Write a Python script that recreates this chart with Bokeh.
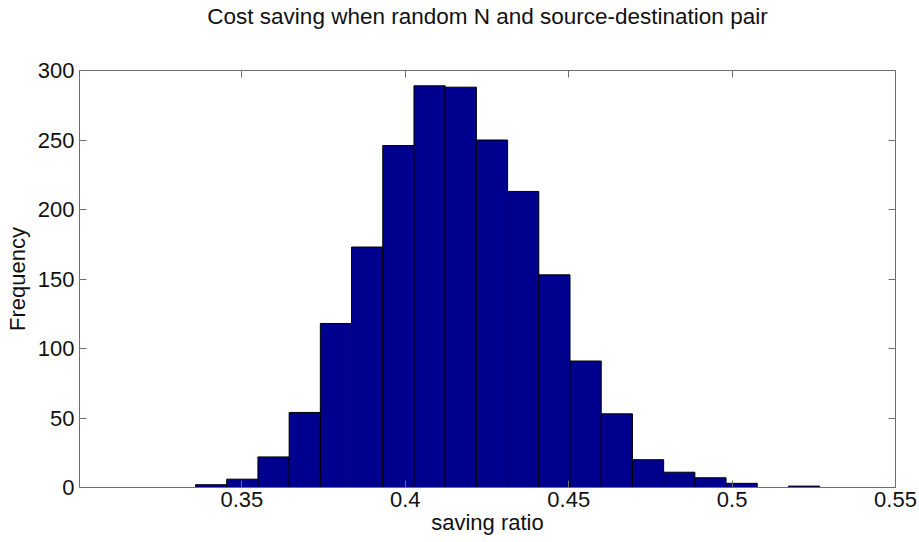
import numpy as np
from bokeh.plotting import figure
from bokeh.models import FixedTicker, LinearAxis, Range1d, ColumnDataSource
from bokeh.embed import file_html
from bokeh.resources import INLINE

# Histogram data (20 bins between min and max saving ratio)
data_min = 0.3358
data_max = 0.5268
counts = [2, 6, 22, 54, 118, 173, 246, 289, 288, 250,
          213, 153, 91, 53, 20, 11, 7, 3, 0, 1]
x_ticks = [0.35, 0.4, 0.45, 0.5, 0.55]
x_tick_labels = ["0.35", "0.4", "0.45", "0.5", "0.55"]
y_ticks = [0, 50, 100, 150, 200, 250, 300]
title_text = "Cost saving when random N and source-destination pair"

edges = np.linspace(data_min, data_max, len(counts) + 1)
src = ColumnDataSource(dict(left=edges[:-1], right=edges[1:], top=counts,
                            bottom=[0] * len(counts)))

FONT = "Liberation Sans"
AX_COL = "#6e6e6e"

p = figure(width=919, height=542, output_backend="svg", toolbar_location=None,
           x_range=Range1d(0.3003, 0.55), y_range=Range1d(0, 300),
           min_border_left=79, min_border_right=24, min_border_top=70,
           min_border_bottom=55, title=None)

p.quad(left="left", right="right", top="top", bottom="bottom", source=src,
       fill_color="#00008F", line_color="#000000", line_width=1)

p.grid.visible = False
p.outline_line_color = AX_COL
p.background_fill_color = "white"
p.border_fill_color = "white"

xa = p.xaxis[0]
xa.ticker = FixedTicker(ticks=x_ticks)
xa.major_label_overrides = {t: l for t, l in zip(x_ticks, x_tick_labels)}
xa.axis_label = "saving ratio"
ya = p.yaxis[0]
ya.ticker = FixedTicker(ticks=y_ticks)
ya.axis_label = "Frequency"

for ax in (xa, ya):
    ax.axis_line_color = AX_COL
    ax.major_tick_line_color = AX_COL
    ax.major_tick_in = 7
    ax.major_tick_out = 0
    ax.minor_tick_line_color = None
    ax.major_label_text_font = FONT
    ax.major_label_text_font_size = "22px"
    ax.major_label_text_color = "#111111"
    ax.axis_label_text_font = FONT
    ax.axis_label_text_font_size = "22px"
    ax.axis_label_text_font_style = "normal"
    ax.axis_label_text_color = "#111111"
xa.major_label_standoff = 4
ya.major_label_standoff = 5
xa.axis_label_standoff = 0
ya.axis_label_standoff = 5

top_ax = LinearAxis(ticker=FixedTicker(ticks=x_ticks))
right_ax = LinearAxis(ticker=FixedTicker(ticks=y_ticks))
for ax in (top_ax, right_ax):
    ax.axis_line_color = AX_COL
    ax.major_tick_line_color = AX_COL
    ax.major_tick_in = 7
    ax.major_tick_out = 0
    ax.minor_tick_line_color = None
    ax.major_label_text_font_size = "0px"
    ax.major_label_text_alpha = 0
    ax.major_label_standoff = 0

# the chart title is drawn as the label of the top (box) axis
top_ax.axis_label = title_text
top_ax.axis_label_text_font = FONT
top_ax.axis_label_text_font_size = "22.5px"
top_ax.axis_label_text_font_style = "normal"
top_ax.axis_label_text_color = "#111111"
top_ax.axis_label_standoff = 42

p.add_layout(top_ax, "above")
p.add_layout(right_ax, "right")

open("out.html", "w").write(file_html(p, INLINE))
